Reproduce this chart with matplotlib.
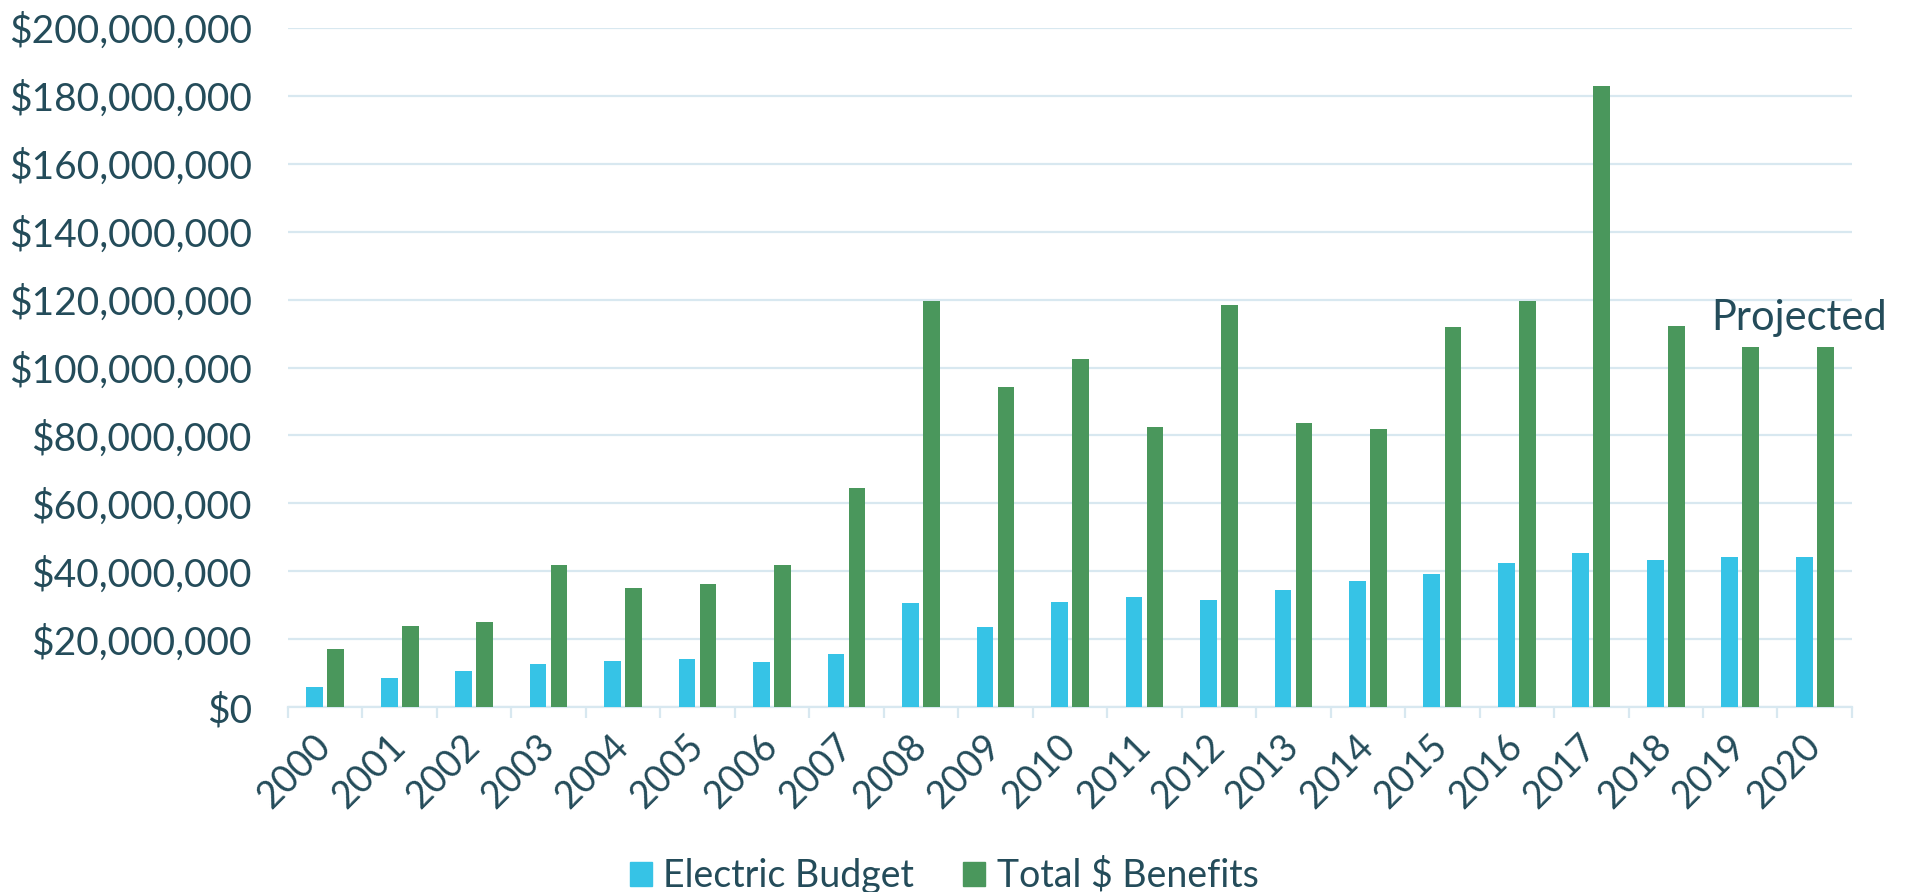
import matplotlib.pyplot as plt
import numpy as np
from matplotlib.patches import Patch
from matplotlib.ticker import FuncFormatter

plt.rcParams["font.family"] = ["Lato", "DejaVu Sans"]

years = [str(y) for y in range(2000, 2021)]
electric_budget = [6.0, 8.7, 10.8, 12.9, 13.6, 14.1, 13.3, 15.8, 30.7, 23.7, 31.0,
                   32.6, 31.6, 34.5, 37.3, 39.3, 42.4, 45.5, 43.5, 44.3, 44.3]
total_benefits = [17.2, 23.9, 25.1, 42.0, 35.1, 36.2, 41.9, 64.4, 119.7, 94.3, 102.4,
                  82.4, 118.4, 83.8, 82.0, 111.8, 119.7, 182.8, 112.3, 106.0, 106.0]
electric_budget = np.array(electric_budget) * 1e6
total_benefits = np.array(total_benefits) * 1e6

text_col = "#244c5a"
grid_col = "#d8e8f0"
blue = "#36c3e6"
green = "#4a975c"

fig = plt.figure(figsize=(19.11, 8.92), dpi=100)
ax = fig.add_axes([0.1507, 0.207, 0.8184, 0.762])

x = np.arange(len(years))
w = 0.224
ax.bar(x - 0.141, electric_budget, w, color=blue, zorder=3)
ax.bar(x + 0.141, total_benefits, w, color=green, zorder=3)

ax.set_xlim(-0.5, len(years) - 0.5)
ax.set_ylim(0, 200e6)
ax.set_yticks(np.arange(0, 200e6 + 1, 20e6))
ax.yaxis.set_major_formatter(FuncFormatter(lambda v, p: f"${v:,.0f}"))
ax.yaxis.grid(True, color=grid_col, lw=1.6, zorder=0)

for s in ["top", "right", "left"]:
    ax.spines[s].set_visible(False)
ax.spines["bottom"].set_color(grid_col)
ax.spines["bottom"].set_linewidth(1.6)

ax.set_xticks(x)
ax.set_xticklabels(years, rotation=45, ha="right", va="center", rotation_mode="anchor")
ax.set_xticks(np.arange(-0.5, len(years)), minor=True)
ax.tick_params(axis="x", which="major", length=0, pad=24, labelsize=27, labelcolor=text_col)
ax.tick_params(axis="x", which="minor", length=8, width=1.6, color=grid_col)
ax.tick_params(axis="y", length=0, pad=26, labelsize=28, labelcolor=text_col)

ax.text(18.61, 111e6, "Projected", fontsize=30, color=text_col, va="baseline",
        ha="left", clip_on=False)

handles = [Patch(color=blue, label="Electric Budget"),
           Patch(color=green, label="Total $ Benefits")]
fig.legend(handles=handles, loc="lower center", bbox_to_anchor=(0.494, -0.04), ncols=2,
           frameon=False, fontsize=27, labelcolor=text_col, handlelength=0.6,
           handleheight=0.6, handletextpad=0.3, columnspacing=1.3)

fig.savefig("out.png", dpi=100)
